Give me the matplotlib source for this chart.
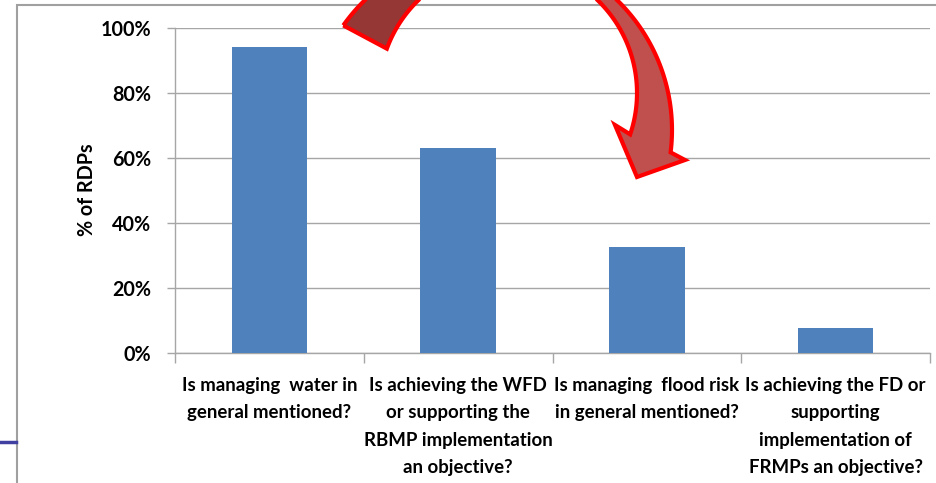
import numpy as np
import matplotlib
matplotlib.use("Agg")
import matplotlib.pyplot as plt
from matplotlib.path import Path
from matplotlib.patches import PathPatch
from matplotlib.ticker import FixedLocator, PercentFormatter

# data
questions = [
    "Is managing  water in\ngeneral mentioned?",
    "Is achieving the WFD\nor supporting the\nRBMP implementation\nan objective?",
    "Is managing  flood risk\nin general mentioned?",
    "Is achieving the FD or\nsupporting\nimplementation of\nFRMPs an objective?",
]
share_rdps = [0.942, 0.631, 0.326, 0.077]
y_ticks = [0.0, 0.2, 0.4, 0.6, 0.8, 1.0]

W, H = 936, 483
plt.rcParams['font.family'] = ['Lato', 'DejaVu Sans']
plt.rcParams['font.weight'] = 'bold'

fig = plt.figure(figsize=(W / 100, H / 100), dpi=100)
ax = fig.add_axes([175 / W, 1 - 353 / H, 755 / W, 325 / H])

grid_col = '#a6a6a6'
x = np.arange(len(questions)) + 0.5
ax.bar(x, share_rdps, width=0.4, color='#4f81bd', zorder=3)

ax.set_xlim(0, len(questions))
ax.set_ylim(0, 1)
ax.yaxis.set_major_locator(FixedLocator(y_ticks))
ax.yaxis.set_major_formatter(PercentFormatter(1.0, decimals=0))
ax.grid(axis='y', color=grid_col, linewidth=1.0, zorder=0)

ax.set_xticks(x)
ax.set_xticklabels(questions, fontsize=13.4, fontweight='bold', linespacing=1.75,
                   va='top')
ax.set_xticks(np.arange(len(questions) + 1), minor=True)
ax.tick_params(axis='x', which='major', length=0, pad=17)
ax.tick_params(axis='x', which='minor', length=7, color=grid_col, width=1)
ax.tick_params(axis='y', length=6, color=grid_col, width=1, pad=11,
               labelsize=14.2)
for lab in ax.get_yticklabels():
    lab.set_fontweight('bold')

for side in ('top', 'right'):
    ax.spines[side].set_visible(False)
for side in ('left', 'bottom'):
    ax.spines[side].set_color(grid_col)
    ax.spines[side].set_linewidth(1.0)

fig.text(87 / W, 1 - 190 / H, '% of RDPs', rotation=90, ha='center',
         va='center', fontsize=14.2, fontweight='bold')

# overlay in pixel coordinates for the slide decorations
ov = fig.add_axes([0, 0, 1, 1], zorder=5)
ov.set_xlim(0, W)
ov.set_ylim(H, 0)
ov.axis('off')
ov.patch.set_visible(False)

ov.plot([17, 17, W], [H, 5, 5], color='#a0a0a0', lw=1.5, zorder=1,
        solid_joinstyle='miter')
ov.plot([0, 16], [442, 442], color='#4040a0', lw=2.5, zorder=1)

# curved block arrow, two arcs (outer and inner edge)
def arc(cx, cy, r, a0, a1, n=80):
    t = np.radians(np.linspace(a0, a1, n))
    return np.column_stack([cx + r * np.cos(t), cy + r * np.sin(t)])

oc = (491, 130, 181)
ic = (508, 93, 129)
head = np.array([[685, 160], [637, 177], [615, 125]])

outer_l = arc(*oc, -144.7, -90)
outer_r = arc(*oc, -90, 7.1)
inner_r = arc(*ic, 18.7, -90)
inner_l = arc(*ic, -90, -159.9)

left_piece = np.vstack([outer_l, arc(*ic, -90, -159.9)])
right_piece = np.vstack([outer_r, head, inner_r])
full = np.vstack([outer_l, outer_r, head, inner_r, inner_l])

for pts, col in ((left_piece, '#953735'), (right_piece, '#c0504d')):
    ov.add_patch(PathPatch(Path(np.vstack([pts, pts[:1]]), closed=True),
                           facecolor=col, edgecolor='none', zorder=2))
ov.add_patch(PathPatch(Path(np.vstack([full, full[:1]]), closed=True),
                       facecolor='none', edgecolor='#ff0000', lw=3.0,
                       joinstyle='miter', zorder=3))

fig.savefig('out.png', dpi=100)
